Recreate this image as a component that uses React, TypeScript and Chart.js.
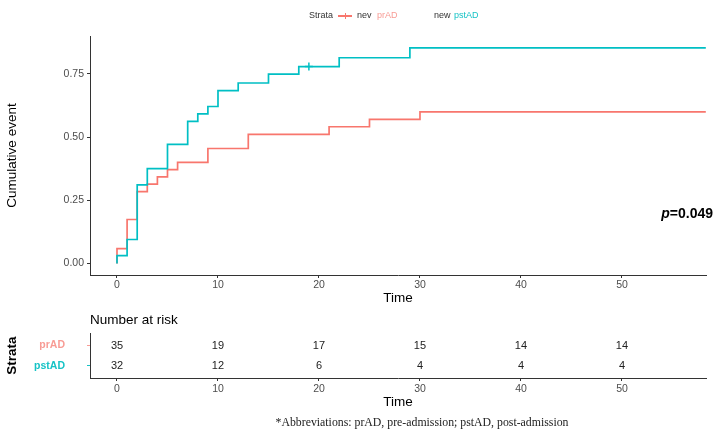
import React, { useEffect, useRef } from 'react';
import { Chart, registerables } from 'chart.js';
Chart.register(...registerables);

// ---- data ----
const prTimes = [0, 0, 1, 2, 3, 4, 5, 6, 9, 13, 21, 25, 30, 58.3];
const prCum = [0, 0.059, 0.174, 0.284, 0.314, 0.343, 0.371, 0.4, 0.455, 0.511, 0.541, 0.57, 0.6, 0.6];
const pstTimes = [0, 0, 1, 2, 3, 5, 7, 8, 9, 10, 12, 15, 18, 22, 29, 58.3];
const pstCum = [0, 0.031, 0.095, 0.311, 0.375, 0.471, 0.562, 0.592, 0.621, 0.684, 0.714, 0.749, 0.779, 0.814, 0.853, 0.853];
const censorTimes = [19];
const censorCum = [0.779];
const xTickValues = [0, 10, 20, 30, 40, 50];
const yTickValues = [0, 0.25, 0.5, 0.75];
const riskTimes = [0, 10, 20, 30, 40, 50];
const riskPr = [35, 19, 17, 15, 14, 14];
const riskPst = [32, 12, 6, 4, 4, 4];
const strataLabels = ['prAD', 'pstAD'];
const pText = '=0.049';

const RED = '#F8766D';
const CYAN = '#00BFC4';
const RED_TXT = '#F89C95';
const CYAN_TXT = '#17C3C6';
const FONT = '"Liberation Sans", Arial, sans-serif';
const X_MIN = -2.673;
const X_MAX = 58.32;

const pPlugin = {
  id: 'pval',
  afterDraw(chart: any) {
    const { ctx, chartArea, scales } = chart;
    const y = scales.y.getPixelForValue(0.195);
    ctx.save();
    ctx.textBaseline = 'middle';
    ctx.fillStyle = '#000';
    ctx.font = `italic bold 14px ${FONT}`;
    const wp = ctx.measureText('p').width;
    ctx.font = `bold 14px ${FONT}`;
    const wr = ctx.measureText(pText).width;
    const right = chartArea.right + 7;
    const x0 = right - wr - wp;
    ctx.font = `italic bold 14px ${FONT}`;
    ctx.textAlign = 'left';
    ctx.fillText('p', x0, y);
    ctx.font = `bold 14px ${FONT}`;
    ctx.fillText(pText, x0 + wp, y);
    ctx.restore();
  },
};

const riskPlugin = {
  id: 'risknums',
  afterDatasetsDraw(chart: any) {
    const { ctx } = chart;
    ctx.save();
    ctx.font = `11px ${FONT}`;
    ctx.fillStyle = '#222';
    ctx.textAlign = 'center';
    ctx.textBaseline = 'middle';
    chart.data.datasets.forEach((ds: any, di: number) => {
      const meta = chart.getDatasetMeta(di);
      meta.data.forEach((pt: any, i: number) => {
        ctx.fillText(String(ds.counts[i]), pt.x, pt.y);
      });
    });
    ctx.restore();
  },
};

function setXTicks(s: any) {
  s.ticks = xTickValues.map((v) => ({ value: v }));
}

export default function App() {
  const c1 = useRef<HTMLCanvasElement>(null);
  const c2 = useRef<HTMLCanvasElement>(null);

  useEffect(() => {
    Chart.defaults.font.family = FONT;
    const axisCommon = {
      border: { display: true, color: '#333', width: 1 },
    };
    const ch1 = new Chart(c1.current as HTMLCanvasElement, {
      type: 'line',
      data: {
        datasets: [
          {
            label: 'censor',
            type: 'scatter',
            data: censorTimes.map((t, i) => ({ x: t, y: censorCum[i] })),
            pointStyle: 'cross',
            pointRadius: 4,
            borderColor: CYAN,
            borderWidth: 1.5,
            showLine: false,
          } as any,
          {
            label: 'pstAD',
            data: pstTimes.map((t, i) => ({ x: t, y: pstCum[i] })),
            borderColor: CYAN,
            borderWidth: 1.7,
            pointRadius: 0,
            stepped: true,
            fill: false,
          },
          {
            label: 'prAD',
            data: prTimes.map((t, i) => ({ x: t, y: prCum[i] })),
            borderColor: RED,
            borderWidth: 1.7,
            pointRadius: 0,
            stepped: true,
            fill: false,
          },
        ],
      },
      options: {
        animation: false,
        responsive: false,
        maintainAspectRatio: false,
        layout: { padding: { top: 36, right: 13, left: 0, bottom: 0 } },
        plugins: { legend: { display: false }, tooltip: { enabled: false }, title: { display: false } },
        scales: {
          x: {
            type: 'linear',
            min: X_MIN,
            max: X_MAX,
            afterBuildTicks: setXTicks,
            afterFit: (s: any) => { s.height = 37; },
            ...axisCommon,
            grid: { display: true, drawOnChartArea: false, drawTicks: true, tickLength: 3, color: '#333' },
            ticks: { color: '#4D4D4D', font: { size: 10.5 }, padding: 1, maxRotation: 0 },
            title: { display: true, text: 'Time', color: '#000', font: { size: 13.5 }, padding: { top: 0, bottom: 6 } },
          },
          y: {
            type: 'linear',
            min: -0.0455,
            max: 0.9,
            afterBuildTicks: (s: any) => { s.ticks = yTickValues.map((v) => ({ value: v })); },
            afterFit: (s: any) => { s.width = 90; },
            ...axisCommon,
            grid: { display: true, drawOnChartArea: false, drawTicks: true, tickLength: 3, color: '#333' },
            ticks: { color: '#4D4D4D', font: { size: 10.5 }, padding: 3, callback: (v: any) => Number(v).toFixed(2) },
            title: { display: true, text: 'Cumulative event', color: '#000', font: { size: 13.5 }, padding: { top: 4, bottom: 0 } },
          },
        },
      } as any,
      plugins: [pPlugin],
    });

    const ch2 = new Chart(c2.current as HTMLCanvasElement, {
      type: 'line',
      data: {
        datasets: [
          {
            label: 'prAD',
            data: riskTimes.map((t) => ({ x: t, y: 0 })),
            counts: riskPr,
            pointRadius: 0,
            showLine: false,
          } as any,
          {
            label: 'pstAD',
            data: riskTimes.map((t) => ({ x: t, y: 1 })),
            counts: riskPst,
            pointRadius: 0,
            showLine: false,
          } as any,
        ],
      },
      options: {
        animation: false,
        responsive: false,
        maintainAspectRatio: false,
        layout: { padding: { top: 8, right: 13, left: 0, bottom: 0 } },
        plugins: {
          legend: { display: false },
          tooltip: { enabled: false },
          title: {
            display: true,
            text: 'Number at risk',
            align: 'start',
            fullSize: false,
            color: '#000',
            font: { size: 13.5, weight: 'normal' },
            padding: { top: 4, bottom: 5.2 },
          },
        },
        scales: {
          x: {
            type: 'linear',
            min: X_MIN,
            max: X_MAX,
            afterBuildTicks: setXTicks,
            afterFit: (s: any) => { s.height = 35; },
            ...axisCommon,
            grid: { display: true, drawOnChartArea: false, drawTicks: true, tickLength: 3, color: '#333' },
            ticks: { color: '#4D4D4D', font: { size: 10.5 }, padding: 2, maxRotation: 0 },
            title: { display: true, text: 'Time', color: '#000', font: { size: 13.5 }, padding: { top: 0, bottom: 3 } },
          },
          y: {
            type: 'linear',
            min: -0.6,
            max: 1.6,
            reverse: true,
            afterBuildTicks: (s: any) => { s.ticks = strataLabels.map((_, i) => ({ value: i })); },
            afterFit: (s: any) => { s.width = 90; },
            ...axisCommon,
            grid: {
              display: true,
              drawOnChartArea: false,
              drawTicks: true,
              tickLength: 3,
              color: (ctx: any) => (ctx.index === 0 ? RED_TXT : CYAN_TXT),
            },
            ticks: {
              padding: 22,
              font: { size: 10.5, weight: 'bold' },
              color: (ctx: any) => (ctx.index === 0 ? RED_TXT : CYAN_TXT),
              callback: (v: any) => strataLabels[Math.round(Number(v))],
            },
            title: { display: true, text: 'Strata', color: '#000', font: { size: 13.5, weight: 'bold' }, padding: { top: 4, bottom: 0 } },
          },
        },
      } as any,
      plugins: [riskPlugin],
    });

    return () => {
      ch1.destroy();
      ch2.destroy();
    };
  }, []);

  const legendText: React.CSSProperties = {
    position: 'absolute',
    top: 10,
    fontFamily: FONT,
    fontSize: 9,
    lineHeight: '11px',
    whiteSpace: 'nowrap',
  };

  return (
    <div style={{ position: 'fixed', left: 0, top: 0, width: 719, height: 433, background: '#fff', overflow: 'hidden' }}>
      <div style={{ position: 'absolute', left: 0, top: 0, width: 719, height: 312 }}>
        <canvas ref={c1} width={719} height={312} style={{ display: 'block' }} />
      </div>
      <div style={{ position: 'absolute', left: 0, top: 300, width: 719, height: 113 }}>
        <canvas ref={c2} width={719} height={113} style={{ display: 'block' }} />
      </div>
      {/* legend */}
      <span style={{ ...legendText, left: 309, color: '#333' }}>Strata</span>
      <div style={{ position: 'absolute', left: 338, top: 15, width: 14, height: 1.5, background: RED }} />
      <div style={{ position: 'absolute', left: 344.5, top: 12.5, width: 1.5, height: 6, background: RED }} />
      <span style={{ ...legendText, left: 357, color: '#333' }}>nev</span>
      <span style={{ ...legendText, left: 377, color: RED_TXT }}>prAD</span>
      <span style={{ ...legendText, left: 434, color: '#333' }}>new</span>
      <span style={{ ...legendText, left: 454, color: CYAN_TXT }}>pstAD</span>
      {/* footnote */}
      <div
        style={{
          position: 'absolute',
          left: 0,
          width: 844,
          top: 415,
          textAlign: 'center',
          fontFamily: '"Liberation Serif", "Times New Roman", serif',
          fontSize: 11.8,
          lineHeight: '15px',
          color: '#222',
          whiteSpace: 'nowrap',
        }}
      >
        *Abbreviations: prAD, pre-admission; pstAD, post-admission
      </div>
    </div>
  );
}
